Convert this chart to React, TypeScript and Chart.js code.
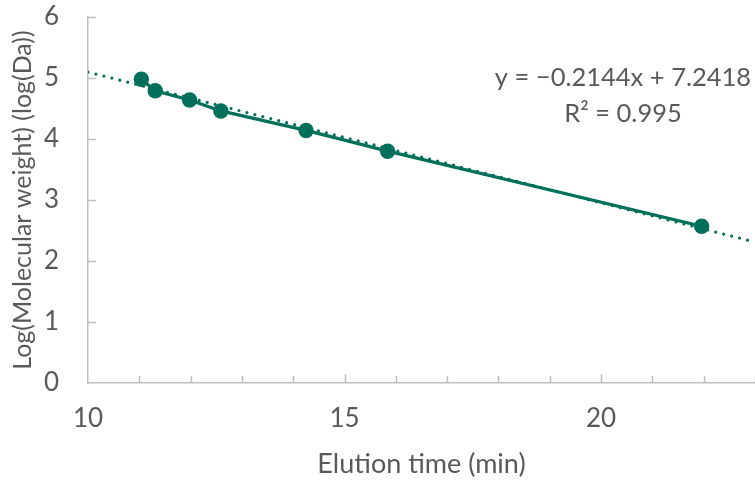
import React, { useEffect, useRef } from "react";
import { Chart, registerables } from "chart.js";

Chart.register(...registerables);

// Calibration standards: elution time (min) vs log10(molecular weight in Da)
const elutionTimes = [11.04, 11.31, 11.98, 12.59, 14.25, 15.84, 21.96];
const logMolecularWeights = [4.98, 4.79, 4.64, 4.46, 4.14, 3.8, 2.57];

// Linear fit reported for the calibration
const fitSlope = -0.2144;
const fitIntercept = 7.2418;
const fitR2 = 0.995;
const fitRange = [10, 23];

const xTickLabels = [10, 15, 20];
const yTickLabels = [0, 1, 2, 3, 4, 5, 6];

const TEAL = "#00705B";
const TEXT = "#595959";
const AXIS = "#bfbfbf";
const FONT = "Lato, 'Open Sans', sans-serif";

const innerTicks = {
  id: "innerTicks",
  beforeDatasetsDraw(chart: any) {
    const { ctx } = chart;
    const xs = chart.scales.x;
    const ys = chart.scales.y;
    ctx.save();
    ctx.strokeStyle = AXIS;
    ctx.lineWidth = 1.5;
    ctx.beginPath();
    for (let v = Math.ceil(xs.min); v <= xs.max; v++) {
      if (v === xs.min) continue;
      const px = Math.round(xs.getPixelForValue(v)) + 0.5;
      const len = xTickLabels.includes(v) ? 9 : 7;
      ctx.moveTo(px, ys.bottom);
      ctx.lineTo(px, ys.bottom - len);
    }
    for (const v of yTickLabels) {
      if (v === ys.min) continue;
      const py = Math.round(ys.getPixelForValue(v)) + 0.5;
      ctx.moveTo(xs.left, py);
      ctx.lineTo(xs.left + 8, py);
    }
    ctx.stroke();
    ctx.restore();
  },
};

const equationLabel = {
  id: "equationLabel",
  afterDraw(chart: any) {
    const { ctx } = chart;
    ctx.save();
    ctx.fillStyle = TEXT;
    ctx.font = `25.5px ${FONT}`;
    ctx.textAlign = "center";
    ctx.textBaseline = "alphabetic";
    const sign = fitSlope < 0 ? "\u2212" : "";
    ctx.fillText(`y = ${sign}${Math.abs(fitSlope)}x + ${fitIntercept}`, 623, 86);
    ctx.fillText(`R\u00B2 = ${fitR2}`, 623, 122);
    ctx.restore();
  },
};

export default function App() {
  const canvasRef = useRef<HTMLCanvasElement | null>(null);

  useEffect(() => {
    if (!canvasRef.current) return;
    const points = elutionTimes.map((x, i) => ({ x, y: logMolecularWeights[i] }));
    const fitLine = fitRange.map((x) => ({ x, y: fitSlope * x + fitIntercept }));

    const chart = new Chart(canvasRef.current, {
      type: "scatter",
      data: {
        datasets: [
          {
            label: "Standards",
            data: points,
            showLine: true,
            borderColor: TEAL,
            backgroundColor: TEAL,
            borderWidth: 3.3,
            pointRadius: 7.7,
            pointBorderWidth: 0,
            pointBackgroundColor: TEAL,
          },
          {
            label: "Linear fit",
            data: fitLine,
            showLine: true,
            borderColor: TEAL,
            borderWidth: 3.2,
            borderDash: [0, 8.2],
            borderCapStyle: "round",
            pointRadius: 0,
          },
        ],
      },
      options: {
        animation: false,
        responsive: true,
        maintainAspectRatio: false,
        layout: { padding: 0, autoPadding: false },
        plugins: { legend: { display: false }, tooltip: { enabled: false } },
        scales: {
          x: {
            type: "linear",
            min: fitRange[0],
            max: fitRange[1],
            afterFit: (s: any) => {
              s.height = 97;
              s.paddingLeft = 0;
              s.paddingRight = 0;
            },
            ticks: {
              stepSize: 1,
              autoSkip: false,
              maxRotation: 0,
              padding: 20,
              color: TEXT,
              font: { family: FONT, size: 26 },
              callback: (v: any) => (xTickLabels.includes(Number(v)) ? String(v) : ""),
            },
            grid: { display: true, drawOnChartArea: false, drawTicks: false },
            border: { display: true, color: AXIS, width: 1.5 },
            title: {
              display: true,
              text: "Elution time (min)",
              color: TEXT,
              font: { family: FONT, size: 27 },
              padding: { top: 0, bottom: 0 },
            },
          },
          y: {
            type: "linear",
            min: 0,
            max: 6,
            afterFit: (s: any) => {
              s.width = 88;
              s.paddingTop = 17;
              s.paddingBottom = 0;
            },
            ticks: {
              stepSize: 1,
              padding: 29,
              color: TEXT,
              font: { family: FONT, size: 26 },
              callback: (v: any) => (yTickLabels.includes(Number(v)) ? String(v) : ""),
            },
            grid: { display: true, drawOnChartArea: false, drawTicks: false },
            border: { display: true, color: AXIS, width: 1.5 },
            title: {
              display: true,
              text: "Log(Molecular weight) (log(Da))",
              color: TEXT,
              font: { family: FONT, size: 25 },
              padding: { top: 8, bottom: 0 },
            },
          },
        },
      },
      plugins: [innerTicks, equationLabel],
    });

    return () => chart.destroy();
  }, []);

  return (
    <div style={{ position: "absolute", left: 0, top: 0, width: 755, height: 480, background: "#fff" }}>
      <canvas ref={canvasRef} />
    </div>
  );
}
